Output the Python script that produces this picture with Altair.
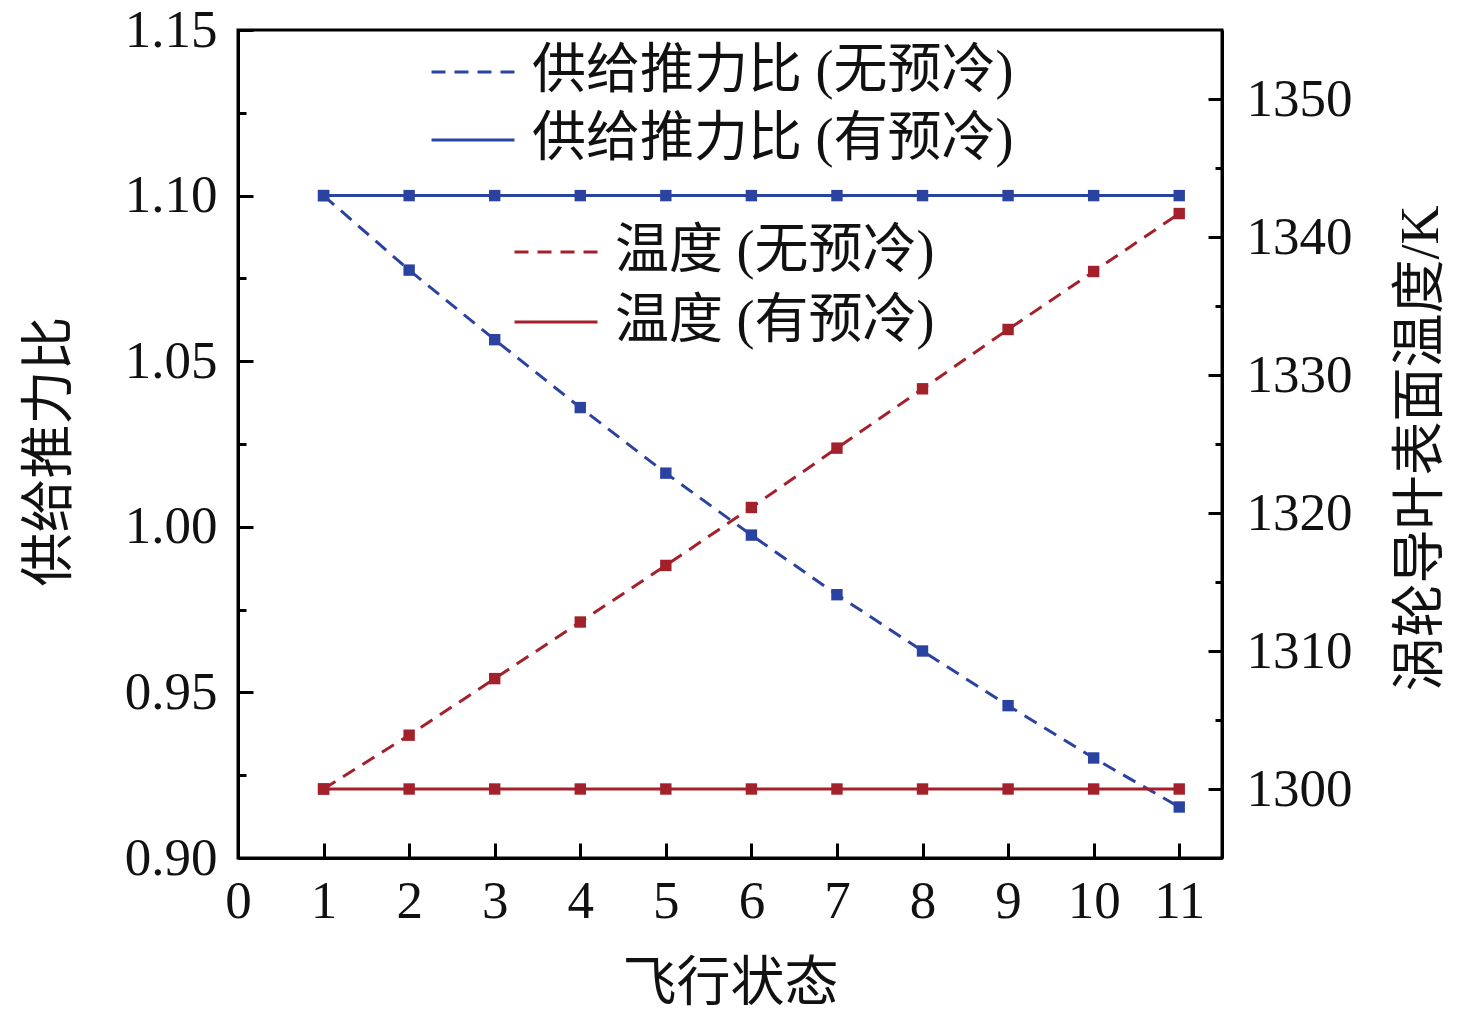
import altair as alt
import pandas as pd

# ---------------- data ----------------
states = [1, 2, 3, 4, 5, 6, 7, 8, 9, 10, 11]
thrust_no = [1.100, 1.0775, 1.0565, 1.0360, 1.0162, 0.9975, 0.9795, 0.9625, 0.9460, 0.9302, 0.9154]
thrust_yes = [1.100, 1.100, 1.100, 1.100, 1.100, 1.100, 1.100, 1.100, 1.100, 1.100, 1.100]
temp_no = [1300.0, 1303.9, 1308.0, 1312.1, 1316.2, 1320.4, 1324.7, 1329.0, 1333.3, 1337.5, 1341.7]
temp_yes = [1300.0, 1300.0, 1300.0, 1300.0, 1300.0, 1300.0, 1300.0, 1300.0, 1300.0, 1300.0, 1300.0]

thrust_labels = ["供给推力比 (无预冷)", "供给推力比 (有预冷)"]
temp_labels = ["温度 (无预冷)", "温度 (有预冷)"]

x_ticks = [0, 1, 2, 3, 4, 5, 6, 7, 8, 9, 10, 11]
left_ticks = [0.90, 0.925, 0.95, 0.975, 1.00, 1.025, 1.05, 1.075, 1.10, 1.125, 1.15]
right_ticks = [1300, 1305, 1310, 1315, 1320, 1325, 1330, 1335, 1340, 1345, 1350]

x_title = "飞行状态"
left_title = "供给推力比"
right_title = "涡轮导叶表面温度/K"

BLUE = "#2b43a0"
RED = "#a3212b"
INK = "#111111"
FONT = "Liberation Serif, Noto Sans CJK SC"

thrust_df = pd.DataFrame({
    "state": states + states,
    "value": thrust_no + thrust_yes,
    "series": [thrust_labels[0]] * len(states) + [thrust_labels[1]] * len(states),
})
temp_df = pd.DataFrame({
    "state": states + states,
    "value": temp_no + temp_yes,
    "series": [temp_labels[0]] * len(states) + [temp_labels[1]] * len(states),
})

LEFT_MAJOR = "abs(datum.value*20 - round(datum.value*20)) < 0.001"
RIGHT_MAJOR = "abs(datum.value/10 - round(datum.value/10)) < 0.001"

x_axis = alt.Axis(
    values=x_ticks, title=x_title, tickSize={"expr": "-15"}, labelPadding=58,
    labelBaseline="middle", labelFlush=False, labelOverlap=False,
    titleX=492, titleY=126, titleBaseline="middle", titleAlign="center",
)
left_axis = alt.Axis(
    orient="left", values=left_ticks, title=left_title,
    tickSize={"expr": f"({LEFT_MAJOR}) ? -15 : -8"},
    labelExpr=f"({LEFT_MAJOR}) ? format(datum.value, '.2f') : ''",
    labelPadding=36, labelFlush=False, labelOverlap=False,
    titleAngle=270, titleX=-188, titleY=421, titleBaseline="middle", titleAlign="center",
)
right_axis = alt.Axis(
    orient="right", values=right_ticks, title=right_title,
    tickSize={"expr": f"({RIGHT_MAJOR}) ? -14 : -7"},
    labelExpr=f"({RIGHT_MAJOR}) ? format(datum.value, 'd') : ''",
    labelPadding=38, labelFlush=False, labelOverlap=False,
    titleAngle=270, titleX=199, titleY=418, titleBaseline="middle", titleAlign="center",
)

x_enc = alt.X("state:Q", scale=alt.Scale(domain=[0, 11.5], nice=False, zero=False), axis=x_axis)


def make_legend(color, lx, ly, row_pad):
    return alt.Legend(
        title=None, orient="none", legendX=lx, legendY=ly, padding=0,
        symbolType="M-2,0H2", symbolSize=1722, symbolStrokeWidth=3,
        symbolStrokeColor=color, symbolFillColor="transparent",
        labelFont=FONT, labelFontSize=54, labelColor=INK, labelLimit=1000,
        labelOffset=32, rowPadding=row_pad,
    )


base_t = alt.Chart(thrust_df)
t_line = base_t.mark_line(color=BLUE, strokeWidth=3).encode(
    x=x_enc,
    y=alt.Y("value:Q", scale=alt.Scale(domain=[0.90, 1.15], nice=False, zero=False), axis=left_axis),
    strokeDash=alt.StrokeDash(
        "series:N",
        scale=alt.Scale(domain=thrust_labels, range=[[14, 9], [1, 0]]),
        legend=make_legend(BLUE, 208, 15, 14),
    ),
)
t_pts = base_t.mark_point(shape="square", filled=True, size=130, color=BLUE, opacity=1).encode(
    x=x_enc,
    y=alt.Y("value:Q", scale=alt.Scale(domain=[0.90, 1.15], nice=False, zero=False), axis=left_axis),
)

base_r = alt.Chart(temp_df)
r_line = base_r.mark_line(color=RED, strokeWidth=3).encode(
    x=x_enc,
    y=alt.Y("value:Q", scale=alt.Scale(domain=[1295, 1355], nice=False, zero=False), axis=right_axis),
    strokeDash=alt.StrokeDash(
        "series:N",
        scale=alt.Scale(domain=temp_labels, range=[[14, 9], [1, 0]]),
        legend=make_legend(RED, 291, 195, 16),
    ),
)
r_pts = base_r.mark_point(shape="square", filled=True, size=130, color=RED, opacity=1).encode(
    x=x_enc,
    y=alt.Y("value:Q", scale=alt.Scale(domain=[1295, 1355], nice=False, zero=False), axis=right_axis),
)

left = alt.layer(t_line, t_pts)
right = alt.layer(r_line, r_pts)

chart = (
    alt.layer(left, right)
    .resolve_scale(y="independent", strokeDash="independent")
    .properties(
        width=984, height=828,
        autosize=alt.AutoSizeParams(type="none"),
        padding={"left": 230, "top": 22, "right": 230, "bottom": 160},
        background="white",
    )
    .configure_view(stroke="black", strokeWidth=3)
    .configure_axis(
        grid=False, domainColor="black", domainWidth=3,
        tickColor="black", tickWidth=3,
        labelFont=FONT, labelFontSize=53, labelColor=INK,
        titleFont=FONT, titleFontSize=54, titleColor=INK, titleFontWeight="normal",
    )
)

chart.save("out.html", embed_options={"renderer": "svg", "actions": False})
